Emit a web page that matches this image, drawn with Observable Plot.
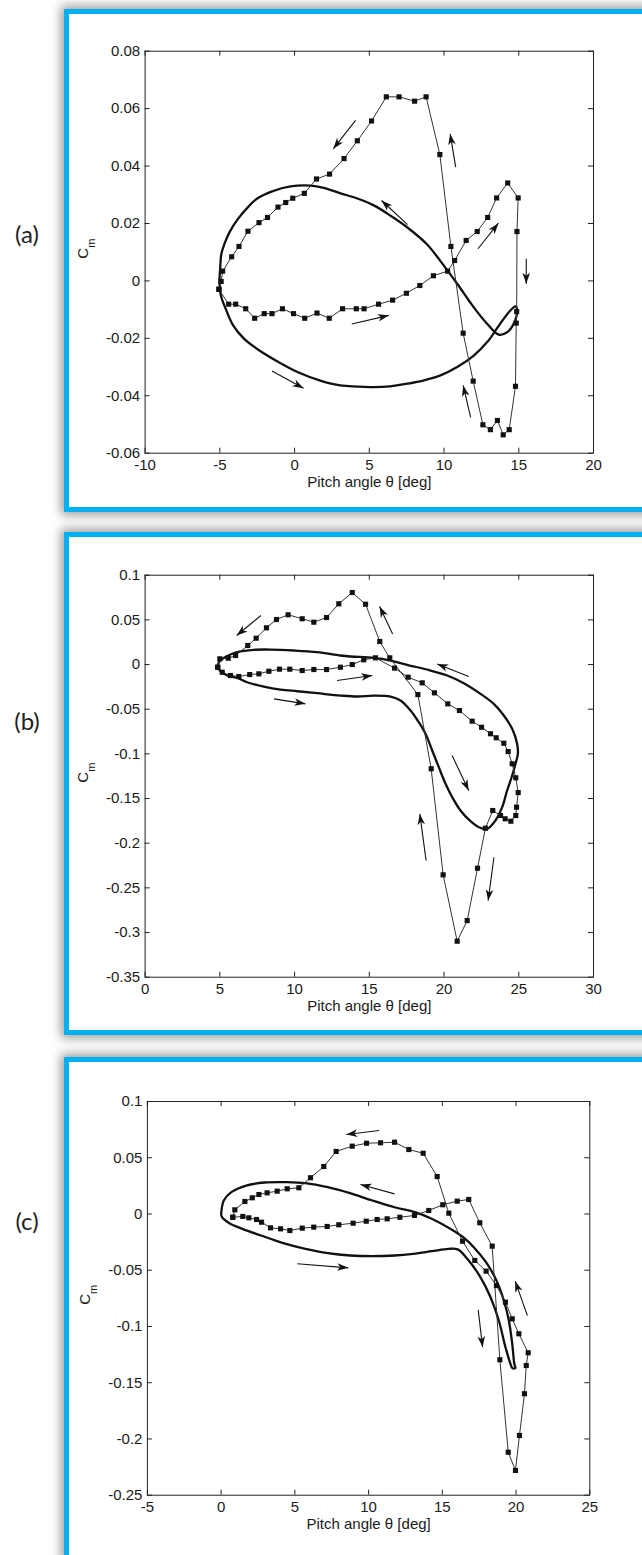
<!DOCTYPE html>
<html><head><meta charset="utf-8">
<script src="https://cdn.jsdelivr.net/npm/d3@7"></script>
<script src="https://cdn.jsdelivr.net/npm/@observablehq/plot@0.6"></script>
<style>
html,body{margin:0;padding:0;background:#fff;width:642px;height:1555px;overflow:hidden;}
.box{position:absolute;left:64px;width:700px;height:493px;border:5px solid #00b0f0;background:#fff;box-shadow:0 0 10px 3px rgba(0,0,0,0.4);}
.plot{position:absolute;left:70px;}
.lab{position:absolute;left:0;width:54px;text-align:center;font-family:Lato,"Open Sans",sans-serif;font-size:24px;color:#222;line-height:1;}
</style></head><body>
<div class="box" style="top:9px"></div>
<div class="box" style="top:532px"></div>
<div class="box" style="top:1057px"></div>
<div class="lab" style="top:222px">(a)</div>
<div class="lab" style="top:709px">(b)</div>
<div class="lab" style="top:1209px">(c)</div>
<div id="pa" class="plot" style="top:14px"></div>
<div id="pb" class="plot" style="top:537px"></div>
<div id="pc" class="plot" style="top:1062px"></div>
<script>
// ---------- Panel (a) ----------
const aXTicks = [-10, -5, 0, 5, 10, 15, 20];
const aYTicks = [0.08, 0.06, 0.04, 0.02, 0, -0.02, -0.04, -0.06];
const aMarkers = [[-5.06,-0.0029],[-4.41,-0.0081],[-3.94,-0.0081],[-3.27,-0.0097],[-2.67,-0.013],[-2.03,-0.0114],[-1.51,-0.0114],[-0.81,-0.0097],[-0.07,-0.0114],[0.68,-0.013],[1.50,-0.0112],[2.32,-0.013],[3.21,-0.0097],[4.13,-0.0097],[4.65,-0.0097],[5.62,-0.0081],[6.56,-0.0067],[7.48,-0.0043],[8.38,-0.0016],[9.29,0.0018],[10.24,0.0034],[10.71,0.0071],[11.48,0.0141],[12.22,0.0172],[12.92,0.0221],[13.52,0.0289],[14.26,0.0341],[14.96,0.0289],[14.88,0.0172],[14.86,-0.0107],[14.83,-0.0147],[14.78,-0.0367],[14.36,-0.0518],[13.96,-0.0536],[13.57,-0.0486],[13.10,-0.0518],[12.60,-0.0501],[11.95,-0.0349],[11.28,-0.0182],[10.46,0.012],[9.72,0.044],[8.80,0.0641],[8.03,0.0626],[6.99,0.0641],[6.14,0.0641],[5.15,0.0557],[4.20,0.0488],[3.31,0.0426],[2.34,0.0372],[1.47,0.0355],[0.65,0.0305],[-0.12,0.0288],[-0.59,0.0273],[-1.11,0.0257],[-1.81,0.0221],[-2.38,0.0203],[-3.12,0.0173],[-3.72,0.012],[-4.21,0.0084],[-4.81,0.0034],[-4.91,-0.0002],[-5.06,-0.0029]];
const aCurve = [[-5.03,0.0001],[-4.97,0.005],[-4.9,0.0094],[-4.7,0.0128],[-4.35,0.017],[-3.8,0.0215],[-3.1,0.0258],[-2.5,0.0287],[-1.50,0.0312],[-0.27,0.0329],[1.06,0.0332],[1.95,0.0324],[3.07,0.0305],[4.2,0.0287],[5.30,0.0263],[6.4,0.0228],[7.53,0.0187],[8.87,0.0127],[9.76,0.0069],[10.88,-0.001],[11.99,-0.0092],[12.88,-0.0149],[13.66,-0.0187],[14.22,-0.0179],[14.66,-0.0149],[14.89,-0.0103],[14.78,-0.0089],[14.44,-0.0103],[13.99,-0.0132],[13.44,-0.0173],[12.99,-0.0207],[11.99,-0.026],[10.88,-0.030],[9.76,-0.0329],[8.6,-0.0347],[7.53,-0.0358],[6.4,-0.0367],[5.30,-0.037],[4.2,-0.0368],[3.07,-0.0364],[1.72,-0.0347],[0.23,-0.0318],[-1.26,-0.0277],[-2.5,-0.0237],[-3.37,-0.0202],[-4.11,-0.0155],[-4.61,-0.0097],[-4.93,-0.0051],[-5.03,0.0001]];
const aArrows = [[4.08,0.0559,2.59,0.046],[10.78,0.0396,10.41,0.0512],[7.56,0.0196,5.82,0.028],[12.27,0.0112,13.64,0.0201],[15.5,0.0077,15.5,-0.001],[3.83,-0.015,6.31,-0.012],[-1.51,-0.0314,0.60,-0.0374],[11.78,-0.0475,11.28,-0.0364]];

// ---------- Panel (b) ----------
const bXTicks = [0, 5, 10, 15, 20, 25, 30];
const bYTicks = [0.1, 0.05, 0, -0.05, -0.1, -0.15, -0.2, -0.25, -0.3, -0.35];
const bMarkers = [[4.86,-0.003],[5.16,-0.0086],[5.71,-0.0123],[6.27,-0.0134],[7.0,-0.0112],[7.61,-0.0104],[8.28,-0.0075],[8.99,-0.0052],[9.68,-0.0052],[10.51,-0.0067],[11.29,-0.0056],[12.14,-0.0056],[13.07,-0.003],[13.86,0.0],[14.63,0.0053],[15.41,0.0075],[16.69,-0.004],[17.60,-0.0142],[18.54,-0.0205],[19.36,-0.0317],[20.25,-0.044],[21.03,-0.0515],[21.88,-0.0634],[22.51,-0.0702],[23.11,-0.0775],[23.49,-0.082],[24.0,-0.0881],[24.29,-0.0974],[24.56,-0.1111],[24.80,-0.1268],[24.96,-0.1433],[24.85,-0.1597],[24.80,-0.169],[24.47,-0.1754],[24.09,-0.1727],[23.78,-0.169],[23.26,-0.1634],[22.77,-0.1832],[22.24,-0.228],[21.55,-0.2866],[20.88,-0.3097],[19.94,-0.2354],[19.14,-0.1167],[18.25,-0.0336],[16.37,0.0075],[15.70,0.0258],[14.75,0.0675],[13.86,0.0806],[12.96,0.068],[12.14,0.0526],[11.29,0.0474],[10.51,0.0512],[9.57,0.0557],[8.79,0.0504],[8.12,0.0411],[7.43,0.0295],[6.87,0.0213],[6.05,0.0101],[5.56,0.0071],[5.0,0.0064],[4.86,-0.003]];
const bCurve = [[4.86,-0.003],[4.93,0.0026],[5.27,0.0075],[5.71,0.0112],[6.38,0.0146],[7.27,0.0165],[8.39,0.0168],[9.95,0.0157],[11.51,0.0138],[13.07,0.0101],[13.74,0.009],[15.30,0.0075],[16.42,0.0045],[17.53,-0.0003],[19.09,-0.0067],[20.21,-0.0123],[21.32,-0.0209],[22.44,-0.0328],[23.33,-0.044],[24.0,-0.0571],[24.56,-0.072],[24.89,-0.0887],[24.94,-0.1],[24.78,-0.1111],[24.56,-0.1242],[24.22,-0.141],[23.89,-0.1597],[23.44,-0.1746],[22.89,-0.1839],[22.33,-0.1821],[21.77,-0.1754],[21.10,-0.1634],[20.55,-0.1485],[20.10,-0.1335],[19.65,-0.1149],[19.21,-0.0962],[18.76,-0.0775],[18.31,-0.0646],[17.76,-0.0515],[17.09,-0.0403],[16.42,-0.0358],[15.30,-0.0347],[14.19,-0.0358],[13.07,-0.0347],[11.51,-0.0321],[10.18,-0.0299],[9.06,-0.028],[7.94,-0.0246],[6.83,-0.0198],[6.16,-0.0149],[5.49,-0.0123],[5.04,-0.0075],[4.86,-0.003]];
const bArrows = [[7.75,0.0549,6.13,0.0325],[16.56,0.0343,15.69,0.0649],[21.65,-0.0134,19.54,0.0007],[12.84,-0.0179,15.20,-0.0123],[8.62,-0.0384,10.73,-0.044],[20.54,-0.1019,21.65,-0.141],[18.80,-0.2194,18.38,-0.1672],[23.34,-0.2157,22.95,-0.2642]];

// ---------- Panel (c) ----------
const cXTicks = [-5, 0, 5, 10, 15, 20, 25];
const cYTicks = [0.1, 0.05, 0, -0.05, -0.1, -0.15, -0.2, -0.25];
const cMarkers = [[0.79,-0.0029],[1.47,-0.0022],[1.88,-0.0034],[2.40,-0.0049],[2.74,-0.0073],[3.35,-0.0123],[4.03,-0.0132],[4.66,-0.0147],[5.50,-0.0126],[6.28,-0.0117],[7.19,-0.0111],[7.98,-0.0096],[8.95,-0.0082],[9.84,-0.0064],[10.58,-0.0049],[11.26,-0.0043],[12.12,-0.0029],[13.11,-0.0013],[14.08,0.0031],[15.03,0.0082],[16.01,0.0114],[16.79,0.0129],[17.54,-0.0078],[18.38,-0.0286],[18.90,-0.1296],[19.47,-0.2118],[19.96,-0.228],[20.23,-0.1969],[20.57,-0.1598],[20.69,-0.1347],[20.82,-0.1234],[20.19,-0.1065],[19.74,-0.0932],[19.28,-0.0784],[18.67,-0.0636],[17.97,-0.0508],[17.20,-0.0413],[16.37,-0.0242],[15.44,0.0007],[14.65,0.0333],[13.70,0.054],[12.73,0.0573],[11.76,0.0638],[10.81,0.0633],[9.86,0.0629],[8.89,0.0603],[7.80,0.0556],[6.96,0.0422],[6.06,0.0322],[5.27,0.0233],[4.48,0.0224],[3.80,0.0203],[3.12,0.0188],[2.56,0.0173],[2.11,0.0144],[1.61,0.0111],[0.93,0.0037],[0.79,-0.0029]];
const cCurve = [[0.0,0.0],[0.18,0.012],[0.69,0.0194],[1.70,0.0253],[2.95,0.028],[4.46,0.0283],[5.72,0.0274],[7.23,0.0238],[8.74,0.0185],[10.25,0.012],[11.76,0.006],[13.15,0.0016],[14.28,-0.0043],[15.54,-0.0132],[16.55,-0.0221],[17.13,-0.0295],[18.04,-0.0443],[18.72,-0.0606],[19.17,-0.0769],[19.51,-0.0947],[19.74,-0.1154],[19.88,-0.1332],[19.95,-0.137],[19.75,-0.137],[19.62,-0.1332],[19.28,-0.1184],[18.83,-0.0947],[18.27,-0.074],[17.59,-0.0563],[16.69,-0.0398],[16.04,-0.0315],[15.41,-0.031],[14.28,-0.0331],[13.02,-0.0354],[11.76,-0.0369],[10.25,-0.0375],[8.74,-0.0369],[7.23,-0.0348],[5.72,-0.031],[4.21,-0.0259],[2.70,-0.0191],[1.44,-0.0132],[0.56,-0.0082],[0.06,-0.0028],[0.0,0.0]];
const cArrows = [[10.71,0.0742,8.49,0.0707],[11.76,0.0179,9.45,0.0262],[5.17,-0.0443,8.62,-0.0479],[17.43,-0.0852,17.73,-0.1184],[20.77,-0.0903,19.94,-0.0597]];

const xLabel = "Pitch angle θ [deg]";
const yLabelMain = "C";
const yLabelSub = "m";

// filled arrowhead, tip at the origin, pointing up
const headSymbol = {
  draw(ctx, size) {
    const s = Math.sqrt(size / Math.PI);
    ctx.moveTo(0, 0);
    ctx.lineTo(3.8 * s, 11 * s);
    ctx.lineTo(0, 8 * s);
    ctx.lineTo(-3.8 * s, 11 * s);
    ctx.closePath();
  }
};

function makePanel(el, cfg) {
  const W = 572, H = cfg.height;
  const mL = cfg.mL, mR = cfg.mR, mT = cfg.mT, mB = cfg.mB;
  const iW = W - mL - mR, iH = H - mT - mB;
  const fmt = d => String(d);
  const ink = "#1a1a1a";
  const X = Plot.scale({x: {domain: cfg.xDomain, range: [mL, W - mR]}});
  const Y = Plot.scale({y: {domain: cfg.yDomain, range: [H - mB, mT]}});
  const heads = cfg.arrows.map(d => {
    const dx = X.apply(d[2]) - X.apply(d[0]);
    const dy = Y.apply(d[3]) - Y.apply(d[1]);
    return {x: d[2], y: d[3], rot: Math.atan2(dx, -dy) * 180 / Math.PI};
  });
  const svg = Plot.plot({
    width: W, height: H,
    marginLeft: mL, marginRight: mR, marginTop: mT, marginBottom: mB,
    x: {domain: cfg.xDomain},
    y: {domain: cfg.yDomain},
    style: {fontFamily: "'Liberation Sans', Arial, sans-serif", fontSize: "15px", color: ink, background: "transparent", overflow: "visible"},
    marks: [
      Plot.frame({stroke: "#222", strokeWidth: 1}),
      Plot.axisX(cfg.xTicks, {tickSize: 0, tickPadding: 6, tickFormat: fmt, label: null}),
      Plot.axisY(cfg.yTicks, {tickSize: 0, tickPadding: 5, tickFormat: fmt, label: null}),
      Plot.tickX(cfg.xTicks, {x: d => d, insetTop: iH - 5, stroke: "#222"}),
      Plot.tickX(cfg.xTicks, {x: d => d, insetBottom: iH - 5, stroke: "#222"}),
      Plot.tickY(cfg.yTicks, {y: d => d, insetRight: iW - 5, stroke: "#222"}),
      Plot.tickY(cfg.yTicks, {y: d => d, insetLeft: iW - 5, stroke: "#222"}),
      Plot.line(cfg.curve, {x: d => d[0], y: d => d[1], curve: "catmull-rom", stroke: "#111", strokeWidth: 2.3}),
      Plot.line(cfg.markers, {x: d => d[0], y: d => d[1], stroke: "#333", strokeWidth: 1}),
      Plot.dot(cfg.markers, {x: d => d[0], y: d => d[1], symbol: "square", r: 2.9, fill: "#111", stroke: null}),
      Plot.link(cfg.arrows, {x1: d => d[0], y1: d => d[1], x2: d => d[2], y2: d => d[3], stroke: "#111", strokeWidth: 1.1}),
      Plot.dot(heads, {x: "x", y: "y", rotate: "rot", symbol: headSymbol, r: 1, fill: "#111", stroke: null}),
      Plot.text([xLabel], {frameAnchor: "bottom", dy: 34, text: d => d, fontSize: 15, fill: ink})
    ]
  });
  const t = d3.select(svg).append("text")
    .attr("transform", `translate(${mL - 57},${mT + iH / 2 - 3}) rotate(-90)`)
    .attr("text-anchor", "middle")
    .attr("font-size", 15)
    .attr("fill", ink);
  t.append("tspan").text(yLabelMain);
  t.append("tspan").attr("font-size", 11).attr("dy", 7).text(yLabelSub);
  document.getElementById(el).appendChild(svg);
}

makePanel("pa", {height: 494, mL: 74.6, mR: 49, mT: 36.7, mB: 55.3, xDomain: [-10, 20], yDomain: [-0.06, 0.08], xTicks: aXTicks, yTicks: aYTicks, markers: aMarkers, curve: aCurve, arrows: aArrows});
makePanel("pb", {height: 493, mL: 74.6, mR: 49, mT: 37.7, mB: 53.3, xDomain: [0, 30], yDomain: [-0.35, 0.1], xTicks: bXTicks, yTicks: bYTicks, markers: bMarkers, curve: bCurve, arrows: bArrows});
makePanel("pc", {height: 493, mL: 76.9, mR: 52.7, mT: 39, mB: 60.3, xDomain: [-5, 25], yDomain: [-0.25, 0.1], xTicks: cXTicks, yTicks: cYTicks, markers: cMarkers, curve: cCurve, arrows: cArrows});
</script>
</body></html>
